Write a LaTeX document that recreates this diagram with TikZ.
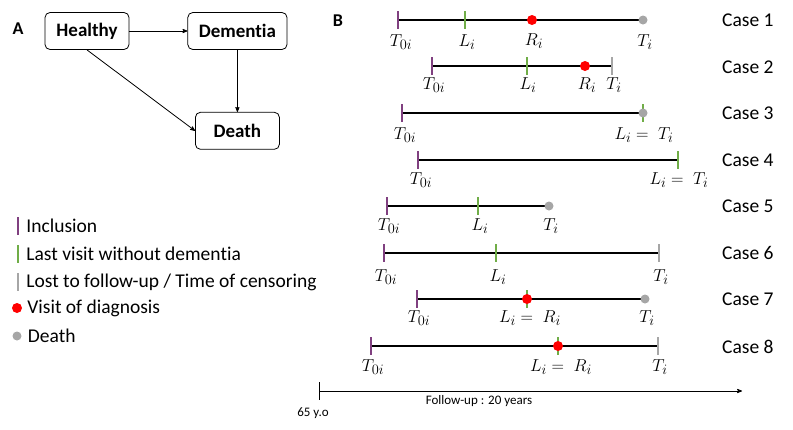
\documentclass[tikz,border=0pt]{standalone}
\usepackage{fontspec}
\setmainfont{Carlito}[Ligatures=NoCommon]
\usetikzlibrary{arrows,positioning}
\definecolor{inclpurple}{RGB}{128,64,128}
\definecolor{lastgreen}{RGB}{112,173,71}
\definecolor{censgrey}{RGB}{166,166,166}
\definecolor{diagred}{RGB}{255,0,0}

\begin{document}
\begin{tikzpicture}[x=1pt,y=-1pt,>=stealth',
	state node/.style={draw,rounded corners=5pt,line width=0.8pt,minimum width=84pt,minimum height=37pt,inner xsep=11pt,font=\fontsize{19}{22}\selectfont\bfseries},
	panel/.style={font=\fontsize{18}{22}\selectfont\bfseries},
	legend/.style={anchor=west,inner sep=0pt,font=\fontsize{19.5}{22}\selectfont},
	case name/.style={anchor=west,inner sep=0pt,font=\fontsize{19.5}{22}\selectfont},
	time/.style={inner sep=0pt,font=\fontsize{19}{22}\selectfont},
	period/.style={line width=2pt},
	incl mark/.style={fill=inclpurple,inner sep=0pt,minimum width=2pt,minimum height=18pt},
	last mark/.style={incl mark,fill=lastgreen},
	cens mark/.style={incl mark,fill=censgrey},
	diag dot/.style={circle,fill=diagred,inner sep=0pt,minimum size=10pt},
	death dot/.style={circle,fill=censgrey,inner sep=0pt,minimum size=9pt}]
	\useasboundingbox (0,0) rectangle (793,429);
	
	% panel A
	\node[panel] (A) at (18,29) {A};
	\node[state node] (healthy) at (87,31) {Healthy};
	\node[state node] (dementia) [right=58pt of healthy] {Dementia};
	\node[state node] (death) [below=62pt of dementia] {Death};
	\path[->,line width=0.8pt]
	(healthy) edge (dementia)
	(dementia) edge (death)
	(healthy.south) edge (death.west);
	
	% legend
	\node[incl mark] (m1) at (18,226) {};
	\node[legend] (l1) [right=7pt of m1] {Inclusion};
	\node[last mark] (m2) at (18,254) {};
	\node[legend] (l2) [right=7pt of m2] {Last visit without dementia};
	\node[cens mark] (m3) at (18,282) {};
	\node[legend] (l3) [right=7pt of m3] {Lost to follow-up / Time of censoring};
	\node[diag dot] (m4) at (17,308) {};
	\node[legend] (l4) [right=5pt of m4] {Visit of diagnosis};
	\node[death dot] (m5) at (17,336) {};
	\node[legend] (l5) [right=6pt of m5] {Death};
	
	% panel B
	\node[panel] (B) at (338,21) {B};
	
	% case 1
	\coordinate (c1a) at (398,20);
	\coordinate (c1b) at (465,20);
	\coordinate (c1c) at (532,20);
	\coordinate (c1d) at (643,20);
	\draw[period] (c1a) -- (c1d);
	\node[incl mark] at (c1a) {};
	\node[last mark] at (c1b) {};
	\node[diag dot] at (c1c) {};
	\node[death dot] at (c1d) {};
	\node[time] at (401,42) {$T_{0i}$};
	\node[time] at (467,42) {$L_i$};
	\node[time] at (534,41) {$R_i$};
	\node[time] at (645,42) {$T_i$};
	
	% case 2
	\coordinate (c2a) at (432,66);
	\coordinate (c2b) at (527,66);
	\coordinate (c2c) at (585,66);
	\coordinate (c2d) at (612,66);
	\draw[period] (c2a) -- (c2d);
	\node[incl mark] at (c2a) {};
	\node[last mark] at (c2b) {};
	\node[diag dot] at (c2c) {};
	\node[cens mark] at (c2d) {};
	\node[time] at (434,85) {$T_{0i}$};
	\node[time] at (528,85) {$L_i$};
	\node[time] at (587,85) {$R_i$};
	\node[time] at (614,85) {$T_i$};
	
	% case 3
	\coordinate (c3a) at (402,113);
	\coordinate (c3b) at (643,113);
	\draw[period] (c3a) -- (c3b);
	\node[incl mark] at (c3a) {};
	\node[last mark] at (c3b) {};
	\node[death dot] at (c3b) {};
	\node[time] at (405,135) {$T_{0i}$};
	\node[time] at (644,135) {$L_i =\; T_i$};
	
	% case 4
	\coordinate (c4a) at (418,160);
	\coordinate (c4b) at (678,160);
	\draw[period] (c4a) -- (c4b);
	\node[incl mark] at (c4a) {};
	\node[last mark] at (c4b) {};
	\node[time] at (421,180) {$T_{0i}$};
	\node[time] at (679,180) {$L_i =\; T_i$};
	
	% case 5
	\coordinate (c5a) at (387,206);
	\coordinate (c5b) at (478,206);
	\coordinate (c5c) at (549,206);
	\draw[period] (c5a) -- (c5c);
	\node[incl mark] at (c5a) {};
	\node[last mark] at (c5b) {};
	\node[death dot] at (c5c) {};
	\node[time] at (389,226) {$T_{0i}$};
	\node[time] at (480,226) {$L_i$};
	\node[time] at (551,226) {$T_i$};
	
	% case 6
	\coordinate (c6a) at (384,253);
	\coordinate (c6b) at (496,253);
	\coordinate (c6c) at (659,253);
	\draw[period] (c6a) -- (c6c);
	\node[incl mark] at (c6a) {};
	\node[last mark] at (c6b) {};
	\node[cens mark] at (c6c) {};
	\node[time] at (386,277) {$T_{0i}$};
	\node[time] at (498,277) {$L_i$};
	\node[time] at (661,277) {$T_i$};
	
	% case 7
	\coordinate (c7a) at (417,299);
	\coordinate (c7b) at (527,299);
	\coordinate (c7c) at (645,299);
	\draw[period] (c7a) -- (c7c);
	\node[incl mark] at (c7a) {};
	\node[last mark] at (c7b) {};
	\node[diag dot] at (c7b) {};
	\node[death dot] at (c7c) {};
	\node[time] at (419,318) {$T_{0i}$};
	\node[time] at (530,318) {$L_i =\; R_i$};
	\node[time] at (647,318) {$T_i$};
	
	% case 8
	\coordinate (c8a) at (371,346);
	\coordinate (c8b) at (558,346);
	\coordinate (c8c) at (658,346);
	\draw[period] (c8a) -- (c8c);
	\node[incl mark] at (c8a) {};
	\node[last mark] at (c8b) {};
	\node[diag dot] at (c8b) {};
	\node[cens mark] at (c8c) {};
	\node[time] at (373,367) {$T_{0i}$};
	\node[time] at (561,367) {$L_i =\; R_i$};
	\node[time] at (660,367) {$T_i$};
	
	% case names
	\node[case name] (case1) at (722,20) {Case 1};
	\node[case name] (case2) at (722,67) {Case 2};
	\node[case name] (case3) at (722,113) {Case 3};
	\node[case name] (case4) at (722,160) {Case 4};
	\node[case name] (case5) at (722,206) {Case 5};
	\node[case name] (case6) at (722,253) {Case 6};
	\node[case name] (case7) at (722,299) {Case 7};
	\node[case name] (case8) at (722,347) {Case 8};
	
	% follow-up axis
	\coordinate (age65) at (319,391);
	\coordinate (axisend) at (742,391);
	\draw[->,line width=0.8pt] (age65) -- (axisend);
	\node[fill=black,inner sep=0pt,minimum width=1pt,minimum height=18pt] (start) at (age65) {};
	\node[font=\fontsize{13}{15}\selectfont] (agetext) at (313,413) {65 y.o};
	\node[font=\fontsize{13}{15}\selectfont] (fuptext) at (479,401) {Follow-up : 20 years};
\end{tikzpicture}
\end{document}
